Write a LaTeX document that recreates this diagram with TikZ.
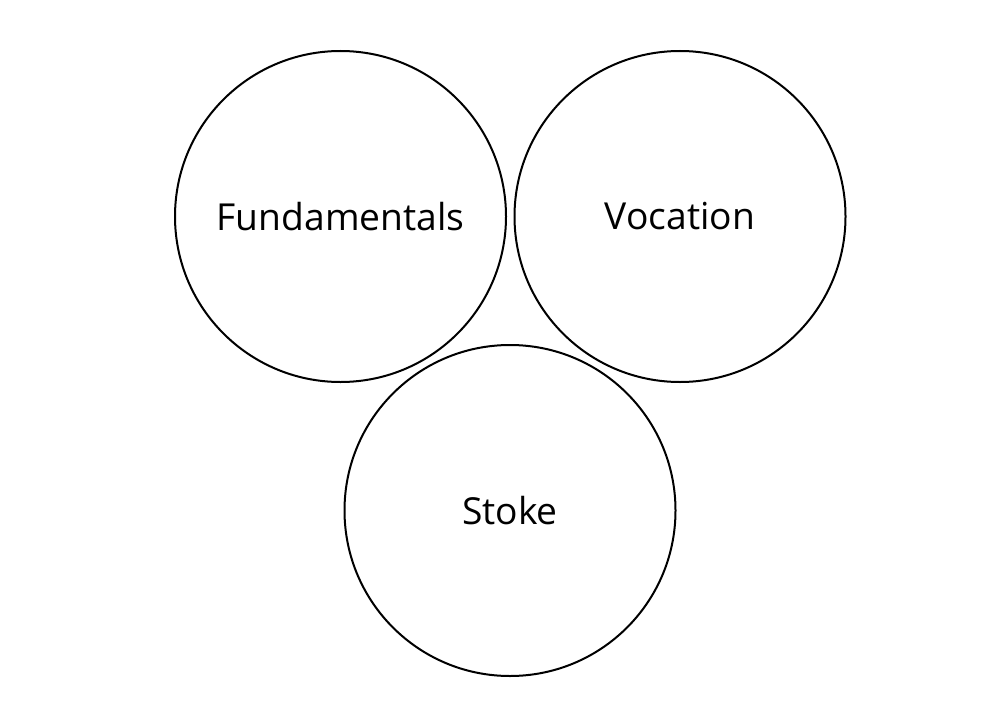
\documentclass[tikz,border=0pt]{standalone}
\usepackage{fontspec}
\setmainfont{Open Sans}
\usepackage{tikz}
\tikzset{
  ring/.style = {circle, draw=black, line width=2pt, minimum size=331pt, inner sep=0pt, font=\fontsize{37.2}{44}\selectfont},
}

\begin{document}
\begin{tikzpicture}[x=1pt, y=1pt]
    % canvas
    \useasboundingbox (0,0) rectangle (1000,-722);

    % the three circles
    \node[ring] (fund)  at (340.5,-216.5) {Fundamentals};
    \node[ring] (voc)   at (680,-216.5)   {Vocation};
    \node[ring] (stoke) at (510,-510.5)   {Stoke};
  \end{tikzpicture}
\end{document}
